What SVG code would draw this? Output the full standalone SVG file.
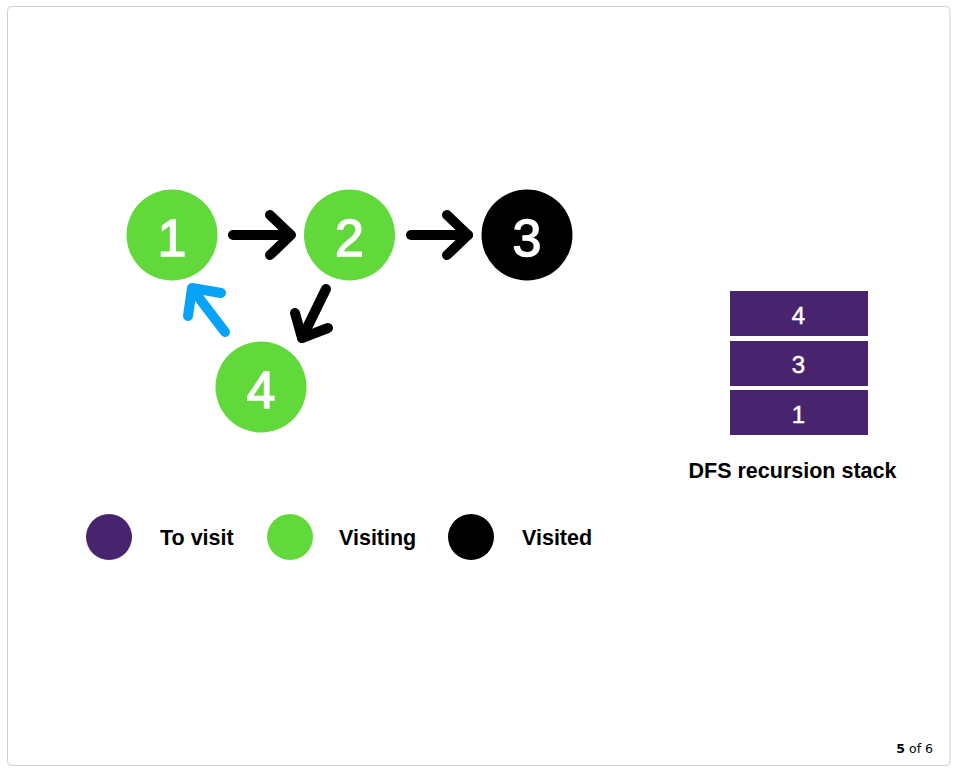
<svg xmlns="http://www.w3.org/2000/svg" width="959" height="772" viewBox="0 0 959 772">
<style>
.num{font-family:"Liberation Sans",Arial,sans-serif;font-size:52px;fill:#fff;stroke:#fff;stroke-width:1.4;text-anchor:middle}
.snum{font-family:"Liberation Sans",Arial,sans-serif;font-size:24px;fill:#fff;stroke:#fff;stroke-width:0.5;text-anchor:middle}
.lbl{font-family:"Liberation Sans",Arial,sans-serif;font-size:21.5px;font-weight:bold;fill:#000}
.arr{fill:none;stroke:#000;stroke-width:10;stroke-linecap:round;stroke-linejoin:round}
.blue{stroke:#07a3f7}
.green{fill:#62d93b}
.purple{fill:#48236e}
</style>
<rect x="7.5" y="6.5" width="942.5" height="759" rx="4" fill="#fff" stroke="#d0d0d0" stroke-width="1"/>
<g id="connectors">
  <g id="e1-2"><path class="arr" d="M233 235H290"/><path class="arr" d="M270 215L291 235L270 255"/></g>
  <g id="e2-3"><path class="arr" d="M411 235H468"/><path class="arr" d="M447 215L468 235L447 255"/></g>
  <g id="e2-4"><path class="arr" d="M326 289L302 338"/><path class="arr" d="M295 313L302 338L328 328"/></g>
  <g id="e4-1"><path class="arr blue" d="M225 332L193 290"/><path class="arr blue" d="M188 316L192 288L221 293"/></g>
</g>
<g id="node1"><circle class="green" cx="172" cy="235" r="45.5"/><text class="num" x="172" y="256">1</text></g>
<g id="node2"><circle class="green" cx="349.5" cy="235" r="45.5"/><text class="num" x="349.5" y="256">2</text></g>
<g id="node3"><circle cx="527" cy="235" r="45.5" fill="#000"/><text class="num" x="527" y="256">3</text></g>
<g id="node4"><circle class="green" cx="261" cy="387" r="45.5"/><text class="num" x="261" y="408">4</text></g>
<g id="stack">
  <rect class="purple" x="730" y="291" width="138" height="45"/><text class="snum" x="798.5" y="324">4</text>
  <rect class="purple" x="730" y="341" width="138" height="45"/><text class="snum" x="798.5" y="373">3</text>
  <rect class="purple" x="730" y="390" width="138" height="45"/><text class="snum" x="798.5" y="423">1</text>
  <text class="lbl" x="792.5" y="478" text-anchor="middle">DFS recursion stack</text>
</g>
<g id="legend">
  <circle class="purple" cx="109" cy="537" r="23"/><text class="lbl" x="160" y="545">To visit</text>
  <circle class="green" cx="290" cy="537" r="23"/><text class="lbl" x="339" y="545">Visiting</text>
  <circle cx="471" cy="537" r="23" fill="#000"/><text class="lbl" x="522" y="545">Visited</text>
</g>
<text x="933" y="753" text-anchor="end" font-family="'DejaVu Sans',Verdana,sans-serif" font-size="12.5" fill="#000"><tspan font-weight="bold">5</tspan> of 6</text>
</svg>
